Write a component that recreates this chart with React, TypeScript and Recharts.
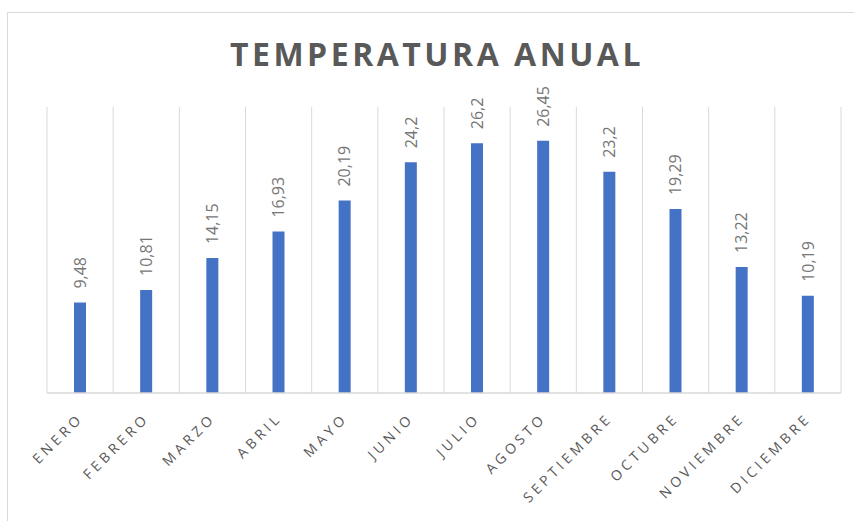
import React from 'react';
import { BarChart, Bar, XAxis, YAxis, CartesianGrid, LabelList } from 'recharts';

const months = ['ENERO', 'FEBRERO', 'MARZO', 'ABRIL', 'MAYO', 'JUNIO', 'JULIO', 'AGOSTO', 'SEPTIEMBRE', 'OCTUBRE', 'NOVIEMBRE', 'DICIEMBRE'];
const temps = [9.48, 10.81, 14.15, 16.93, 20.19, 24.2, 26.2, 26.45, 23.2, 19.29, 13.22, 10.19];
const title = 'TEMPERATURA ANUAL';

const data = months.map((m, i) => ({ month: m, temp: temps[i] }));

const FONT = '"Open Sans", "Liberation Sans", sans-serif';

const MonthTick = (props: any) => {
  const { x, y, payload } = props;
  return (
    <g transform={`translate(${x + 4},${y + 26})`}>
      <text
        x={0}
        y={0}
        textAnchor="end"
        transform="rotate(-45)"
        fill="#595959"
        fontSize={14}
        letterSpacing={3.8}
        fontFamily={FONT}
      >
        {payload.value}
      </text>
    </g>
  );
};

const ValueLabel = (props: any) => {
  const { x, y, width, value } = props;
  const cx = x + width / 2;
  const cy = y - 14;
  return (
    <text
      x={cx}
      y={cy}
      transform={`rotate(-90, ${cx}, ${cy})`}
      textAnchor="start"
      dy="0.36em"
      fill="#767676"
      fontSize={16}
      fontFamily={FONT}
    >
      {String(value).replace('.', ',')}
    </text>
  );
};

export default function App() {
  return (
    <div style={{ position: 'absolute', left: 0, top: 0, width: 854, height: 521, background: '#fff', overflow: 'hidden' }}>
      <div
        style={{
          position: 'absolute',
          left: 7,
          top: 12,
          width: 870,
          height: 530,
          border: '1px solid #d9d9d9',
          boxSizing: 'border-box',
        }}
      />
      <svg width={854} height={90} style={{ position: 'absolute', left: 0, top: 0 }}>
        <text
          x={437}
          y={66}
          textAnchor="middle"
          fill="#595959"
          fontSize={32}
          fontWeight="bold"
          letterSpacing={3.5}
          fontFamily={FONT}
        >
          {title}
        </text>
      </svg>
      <div style={{ position: 'absolute', left: 0, top: 0 }}>
        <BarChart
          width={854}
          height={521}
          data={data}
          margin={{ top: 107, right: 13, bottom: 98, left: 47 }}
        >
          <CartesianGrid
            horizontal={false}
            stroke="#d9d9d9"
            verticalCoordinatesGenerator={({ offset }: any) => {
              const n = months.length;
              const arr: number[] = [];
              for (let i = 0; i <= n; i++) arr.push(offset.left + (offset.width * i) / n);
              return arr;
            }}
          />
          <XAxis
            dataKey="month"
            interval={0}
            tickLine={false}
            tickSize={0}
            tickMargin={0}
            axisLine={{ stroke: '#d9d9d9', strokeWidth: 1.5 }}
            tick={<MonthTick />}
          />
          <YAxis hide domain={[0, 30]} />
          <Bar dataKey="temp" fill="#4472C4" barSize={12} isAnimationActive={false}>
            <LabelList dataKey="temp" content={<ValueLabel />} />
          </Bar>
        </BarChart>
      </div>
    </div>
  );
}
